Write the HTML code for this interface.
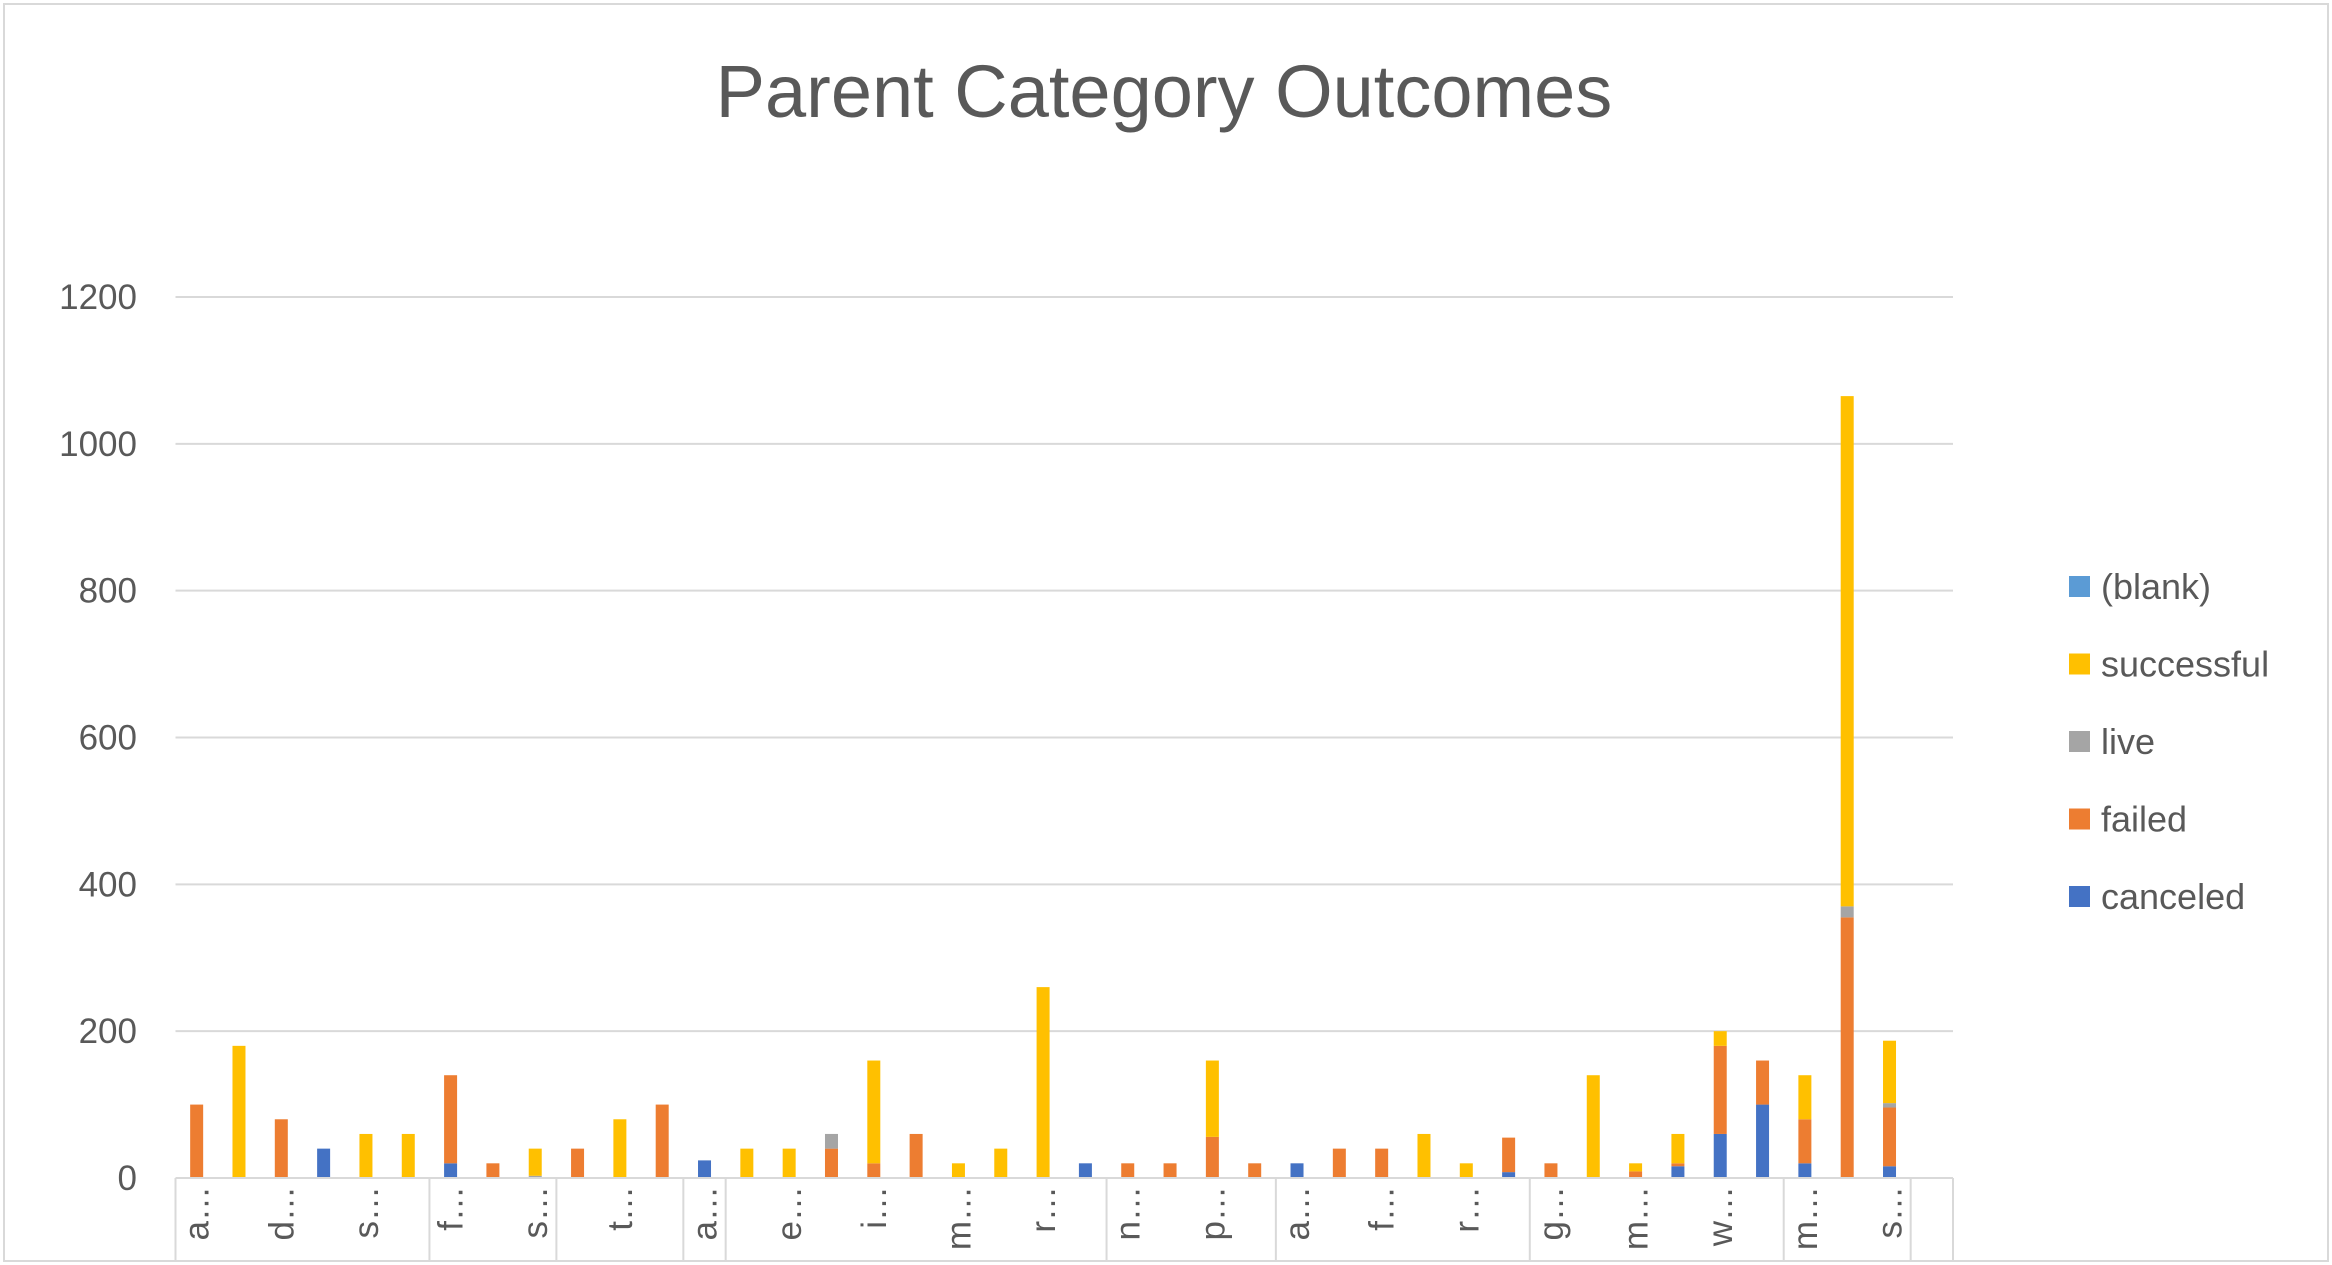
<!DOCTYPE html>
<html><head><meta charset="utf-8"><style>
html,body{margin:0;padding:0;background:#fff;}
svg{display:block;font-family:"Liberation Sans",sans-serif;}
</style></head><body>
<svg id="chart" width="2332" height="1265" viewBox="0 0 2332 1265" xmlns="http://www.w3.org/2000/svg">
<rect x="4" y="4" width="2324" height="1257" fill="#fff" stroke="#d9d9d9" stroke-width="2"/>
<text x="1164" y="117" text-anchor="middle" font-size="74" fill="#595959">Parent Category Outcomes</text>
<g id="grid"></g><g id="bars"></g><g id="axis"></g><g id="legend"></g>
</svg>
<script>
const categories=["a","","d","","s","","f","","s","","t","","a","","e","","i","","m","","r","","n","","p","","a","","f","","r","","g","","m","","w","","m","","s",""];
const groupSizes=[6,3,3,1,9,4,6,6,3,1];
const canceled=[0,0,0,40,0,0,20,0,0,0,0,0,24,0,0,0,0,0,0,0,0,20,0,0,0,0,20,0,0,0,0,8,0,0,0,16,60,100,20,0,16,0];
const failed=[100,0,80,0,0,0,120,20,0,40,0,100,0,0,0,40,20,60,0,0,0,0,20,20,56,20,0,40,40,0,0,47,20,0,9,4,120,60,60,355,80,0];
const live=[0,0,0,0,0,0,0,0,3,0,0,0,0,0,0,20,0,0,0,0,0,0,0,0,0,0,0,0,0,0,0,0,0,0,0,0,0,0,0,15,6,0];
const successful=[0,180,0,0,60,60,0,0,37,0,80,0,0,40,40,0,140,0,20,40,260,0,0,0,104,0,0,0,0,60,20,0,0,140,11,40,20,0,60,695,85,0];
const blank=[0,0,0,0,0,0,0,0,0,0,0,0,0,0,0,0,0,0,0,0,0,0,0,0,0,0,0,0,0,0,0,0,0,0,0,0,0,0,0,0,0,0];
const yTicks=[0,200,400,600,800,1000,1200];
const seriesNames=["canceled","failed","live","successful","(blank)"];
const seriesColors=["#4472C4","#ED7D31","#A5A5A5","#FFC000","#5B9BD5"];
const seriesData=[canceled,failed,live,successful,blank];
const NS="http://www.w3.org/2000/svg";
const L=175.5,R=1953,B=1178,T=297,yMax=1200;
const n=categories.length,step=(R-L)/n,bw=13;
function y(v){return B-(v/yMax)*(B-T);}
function x(i){return L+step*(i+0.5);}
function mk(t,a,p){const e=document.createElementNS(NS,t);for(const k in a)e.setAttribute(k,a[k]);p.appendChild(e);return e;}
const grid=document.getElementById('grid'),bars=document.getElementById('bars'),axis=document.getElementById('axis'),leg=document.getElementById('legend');
yTicks.forEach(v=>{
 if(v>0){const g=mk('line',{x1:L,x2:R,y1:y(v),y2:y(v),stroke:'#d9d9d9','stroke-width':2},grid);
 
 }
 const t=mk('text',{x:137,y:y(v)+12,'text-anchor':'end','font-size':35,fill:'#595959'},grid);
 t.textContent=v;
 
 
});
for(let i=0;i<n;i++){
 let acc=0;
 seriesData.forEach((s,k)=>{
  const v=s[i];if(!v)return;
  const r=mk('rect',{x:x(i)-bw/2,y:y(acc+v),width:bw,height:y(acc)-y(acc+v),fill:seriesColors[k]},bars);
  
  
  acc+=v;
 });
 if(categories[i]){
  const t=mk('text',{transform:`translate(${x(i)+12},${B+8}) rotate(-90)`,'text-anchor':'end','font-size':35,fill:'#595959'},axis);
  t.textContent=categories[i]+'…';
  
  
 }
}
const base=mk('line',{x1:L,x2:R,y1:B,y2:B,stroke:'#d9d9d9','stroke-width':2},axis);


const bot=mk('line',{x1:L,x2:R,y1:1261,y2:1261,stroke:'#d9d9d9','stroke-width':2},axis);


let c=0;
[0].concat(groupSizes).forEach(g=>{c+=g;
 const xx=L+c*step;
 const d=mk('line',{x1:xx,x2:xx,y1:B,y2:1261,stroke:'#d9d9d9','stroke-width':2},axis);
 
 
});
const order=[4,3,2,1,0];
order.forEach((k,j)=>{
 const yy=587+j*77.5;
 const r=mk('rect',{x:2069,y:yy-11,width:21,height:21,fill:seriesColors[k]},leg);
 
 
 const t=mk('text',{x:2101,y:yy+12,'font-size':36,fill:'#595959'},leg);
 t.textContent=seriesNames[k];
 
 
});
</script>
</body></html>
